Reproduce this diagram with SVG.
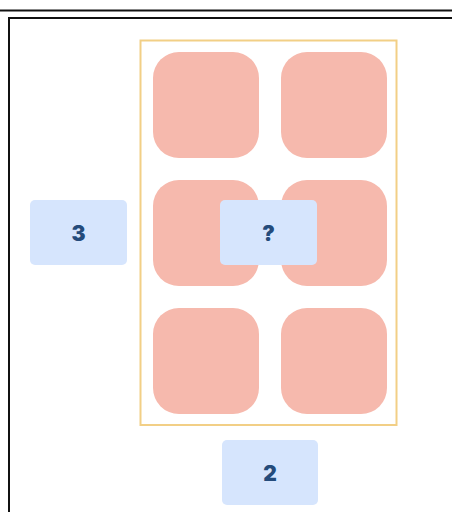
<svg xmlns="http://www.w3.org/2000/svg" width="452" height="512" viewBox="0 0 452 512">
<style>
.tile{fill:#f6b9ad;}
.lbl{fill:#d6e5fd;}
.t{font-family:Inter,"Noto Sans",sans-serif;font-weight:900;font-size:21px;fill:#244b7b;text-anchor:middle;dominant-baseline:central;}
.frame{fill:none;stroke:#111;stroke-width:2;}
</style>
<rect width="452" height="512" fill="#fff"/>
<g id="frame">
<line class="frame" x1="0" y1="10.5" x2="452" y2="10.5"/>
<polyline class="frame" points="9,512 9,18 452,18"/>
</g>
<g id="container">
<rect x="140.5" y="40.5" width="256" height="384.5" fill="none" stroke="#f2cf86" stroke-width="2"/>
</g>
<g id="tiles">
<rect class="tile" x="153" y="52" width="106" height="106" rx="26"/>
<rect class="tile" x="281" y="52" width="106" height="106" rx="26"/>
<rect class="tile" x="153" y="180" width="106" height="106" rx="26"/>
<rect class="tile" x="281" y="180" width="106" height="106" rx="26"/>
<rect class="tile" x="153" y="308" width="106" height="106" rx="26"/>
<rect class="tile" x="281" y="308" width="106" height="106" rx="26"/>
</g>
<g id="label-3">
<rect class="lbl" x="30" y="200" width="97" height="65" rx="5"/>
<text class="t" x="78.5" y="233">3</text>
</g>
<g id="label-q">
<rect class="lbl" x="220" y="200" width="97" height="65" rx="5"/>
<text class="t" x="268.5" y="233">?</text>
</g>
<g id="label-2">
<rect class="lbl" x="222" y="440" width="96" height="65" rx="5"/>
<text class="t" x="270" y="473">2</text>
</g>
<g id="connectors"></g>
</svg>
